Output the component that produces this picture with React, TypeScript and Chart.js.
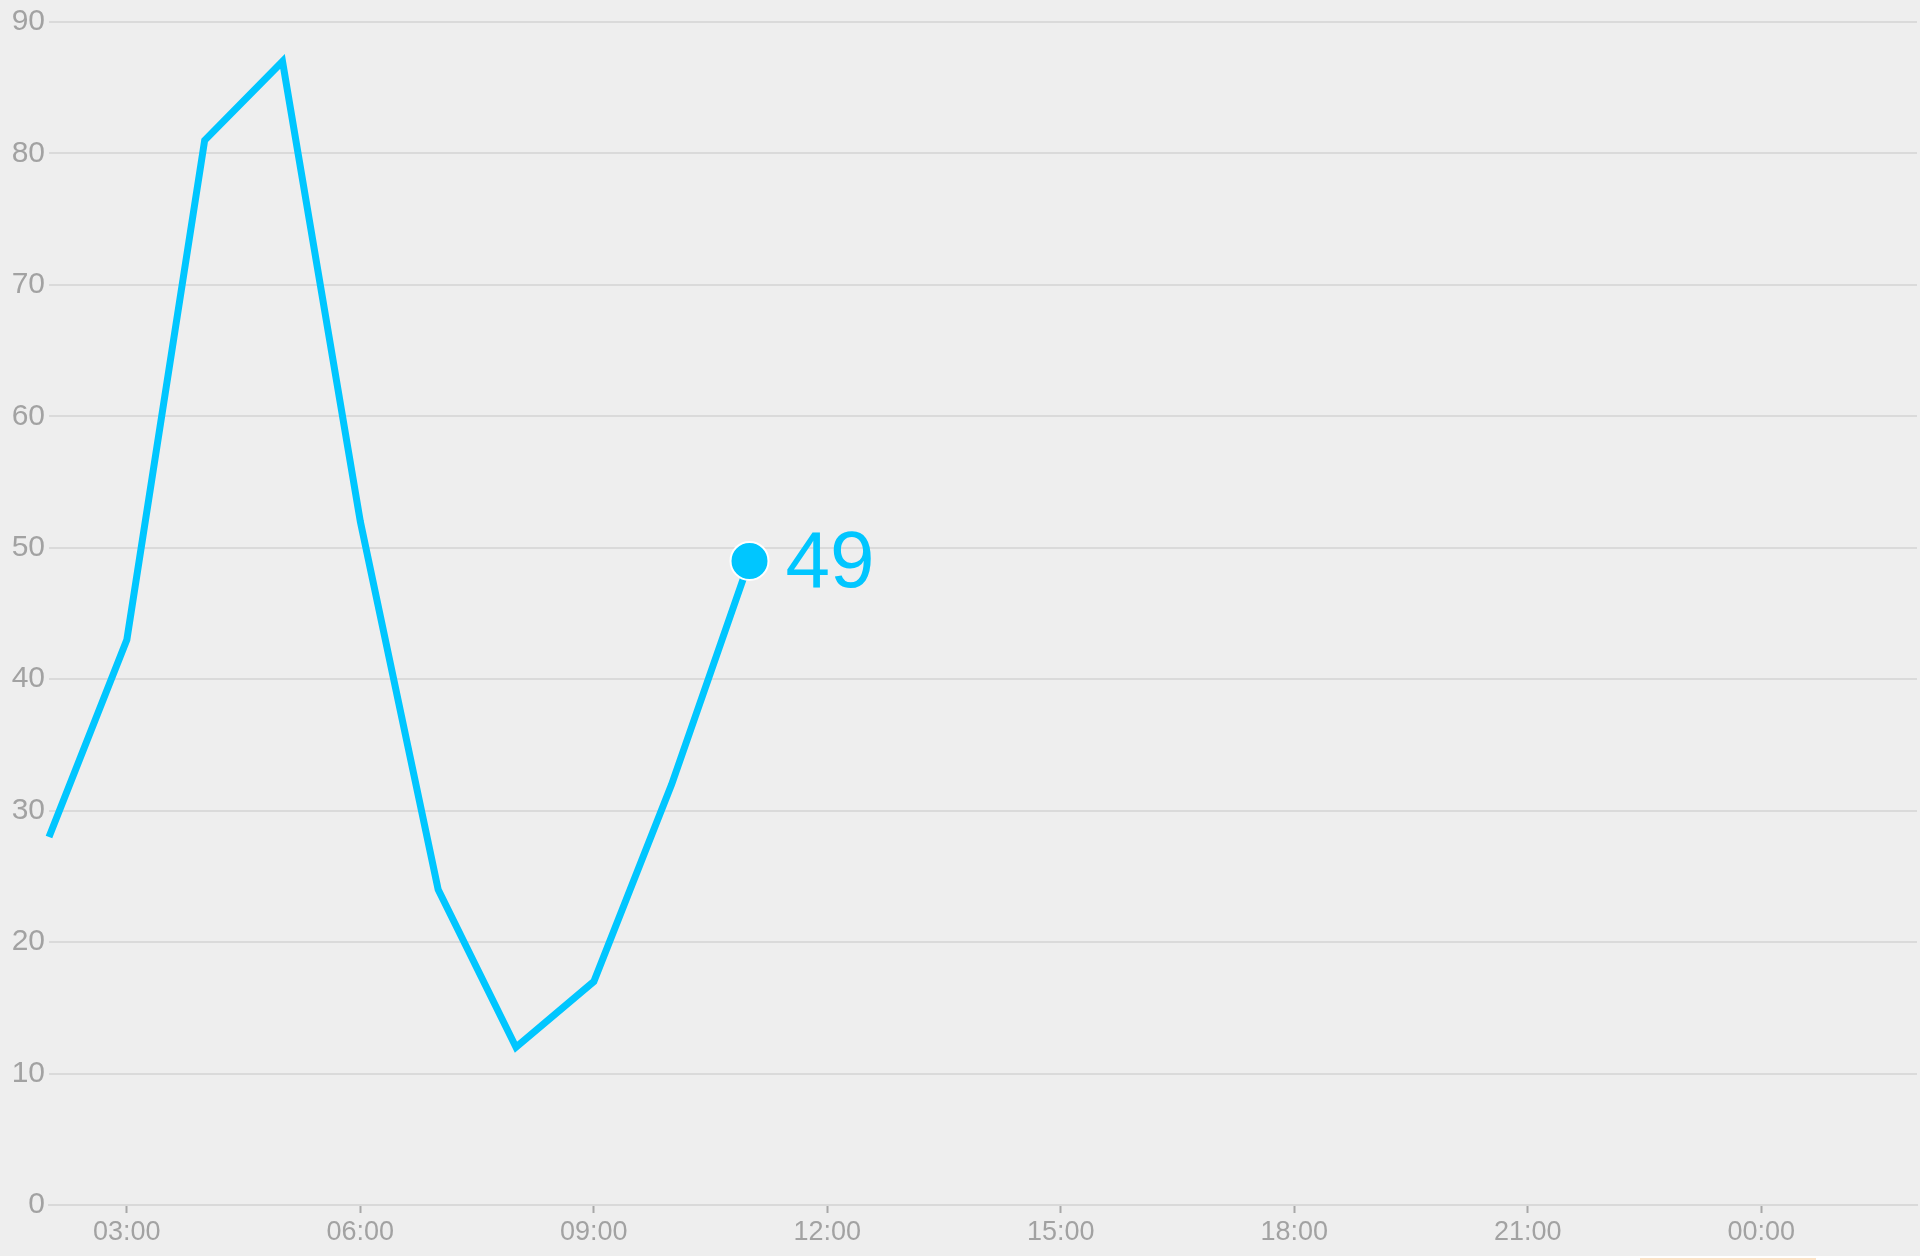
import React, { useEffect, useRef } from "react";
import { Chart, registerables } from "chart.js";

Chart.register(...registerables);

// Hours since midnight (02:00 → 11:00), hourly samples
const hours = [2, 3, 4, 5, 6, 7, 8, 9, 10, 11];
const values = [28, 43, 81, 87, 52, 24, 12, 17, 32, 49];
const xTickHours = [3, 6, 9, 12, 15, 18, 21, 24];
const xMin = 2;
const xMax = 26;
const yMin = 0;
const yMax = 90;
const yStep = 10;

const LINE = "#00C6FF";
const FONT = "'Liberation Sans', Arial, Helvetica, sans-serif";

const fmtHour = (v: number) => {
  const h = ((Math.round(v) % 24) + 24) % 24;
  return (h < 10 ? "0" : "") + h + ":00";
};

const lastLabelPlugin = {
  id: "lastLabel",
  afterDatasetsDraw(chart: any) {
    const meta = chart.getDatasetMeta(0);
    const pts = meta.data;
    const p = pts[pts.length - 1];
    if (!p) return;
    const ctx = chart.ctx;
    ctx.save();
    ctx.fillStyle = LINE;
    ctx.font = `80px ${FONT}`;
    ctx.textAlign = "left";
    ctx.textBaseline = "middle";
    ctx.fillText(String(values[values.length - 1]), p.x + 36, p.y + 4);
    ctx.restore();
  },
};

export default function App() {
  const ref = useRef<HTMLCanvasElement | null>(null);

  useEffect(() => {
    if (!ref.current) return;
    const n = values.length;
    const chart = new Chart(ref.current, {
      type: "line",
      data: {
        datasets: [
          {
            data: hours.map((h, i) => ({ x: h, y: values[i] })),
            borderColor: LINE,
            backgroundColor: LINE,
            borderWidth: 7,
            borderJoinStyle: "miter",
            borderCapStyle: "butt",
            tension: 0,
            fill: false,
            pointRadius: values.map((_, i) => (i === n - 1 ? 19 : 0)),
            pointHoverRadius: values.map((_, i) => (i === n - 1 ? 19 : 0)),
            pointBackgroundColor: LINE,
            pointBorderColor: "#ffffff",
            pointBorderWidth: 2,
          },
        ],
      },
      options: {
        animation: false,
        responsive: false,
        maintainAspectRatio: false,
        clip: false as any,
        layout: { autoPadding: false, padding: { top: 22, right: 3, left: 0, bottom: 0 } },
        plugins: {
          legend: { display: false },
          tooltip: { enabled: false },
        },
        scales: {
          x: {
            type: "linear",
            min: xMin,
            max: xMax,
            afterBuildTicks: (s: any) => {
              s.ticks = xTickHours.map((v) => ({ value: v }));
            },
            afterFit: (s: any) => {
              s.height = 51;
              s.paddingLeft = 0;
              s.paddingRight = 0;
            },
            ticks: {
              autoSkip: false,
              maxRotation: 0,
              color: "#a2a2a2",
              padding: 3,
              font: { family: FONT, size: 27 },
              callback: (v: any) => fmtHour(Number(v)),
            },
            grid: {
              display: true,
              drawOnChartArea: false,
              drawTicks: true,
              tickLength: 8,
              tickColor: "#a8a8a8",
              tickWidth: 2,
            },
            border: { display: true, color: "#d9d9d9", width: 2 },
          },
          y: {
            min: yMin,
            max: yMax,
            afterFit: (s: any) => {
              s.width = 49;
              s.paddingTop = 0;
              s.paddingBottom = 0;
            },
            ticks: {
              stepSize: yStep,
              color: "#a2a2a2",
              padding: 4,
              font: { family: FONT, size: 30 },
            },
            grid: {
              color: "#dadada",
              lineWidth: 2,
              drawTicks: false,
            },
            border: { display: false },
          },
        },
      },
      plugins: [lastLabelPlugin],
    } as any);
    return () => chart.destroy();
  }, []);

  return (
    <div
      style={{
        position: "fixed",
        left: 0,
        top: 0,
        width: 1920,
        height: 1260,
        background: "#ffffff",
      }}
    >
      <div style={{ position: "absolute", left: 0, top: 0, width: 1920, height: 1256, background: "#eeeeee" }}>
        <canvas ref={ref} width={1920} height={1256} style={{ display: "block" }} />
      </div>
      <div
        style={{
          position: "absolute",
          left: 1640,
          top: 1258,
          width: 176,
          height: 2,
          background: "#fbe3c8",
        }}
      />
    </div>
  );
}
